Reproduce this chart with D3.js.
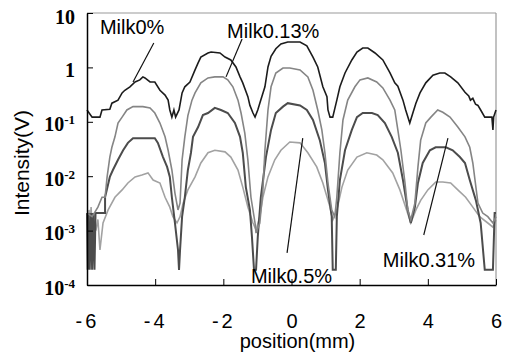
<!DOCTYPE html>
<html>
<head>
<meta charset="utf-8">
<script src="https://cdn.jsdelivr.net/npm/d3@7/dist/d3.min.js"></script>
<style>
    body { margin: 0; background: #fff; }
    .ylab { font-family: "Liberation Serif", "DejaVu Serif", "Times New Roman", serif; font-weight: bold; }
</style>
</head>
<body>
<div id="chart"></div>
<script>
// position (mm), intensity (V)
let milk0 = [
    [-6.00, 0.165], [-5.85, 0.122], [-5.62, 0.122], [-5.56, 0.165], [-5.33, 0.17], [-5.27, 0.22],
    [-5.09, 0.25], [-4.97, 0.34], [-4.89, 0.38], [-4.74, 0.44], [-4.59, 0.54], [-4.45, 0.59],
    [-4.36, 0.67], [-4.30, 0.64], [-4.15, 0.54], [-4.01, 0.54], [-3.86, 0.38], [-3.71, 0.31],
    [-3.62, 0.25], [-3.57, 0.165], [-3.51, 0.122], [-3.45, 0.165], [-3.40, 0.122], [-3.30, 0.165],
    [-3.21, 0.34], [-3.13, 0.44], [-2.98, 0.54], [-2.83, 0.90], [-2.74, 1.21], [-2.66, 1.55],
    [-2.45, 1.84], [-2.36, 1.92], [-2.10, 1.84], [-1.95, 1.55], [-1.78, 1.37], [-1.63, 1.02],
    [-1.51, 0.67], [-1.43, 0.52], [-1.28, 0.29], [-1.22, 0.20], [-1.13, 0.145], [-1.07, 0.122],
    [-0.99, 0.165], [-0.93, 0.22], [-0.78, 0.44], [-0.69, 1.02], [-0.60, 1.6], [-0.46, 2.2],
    [-0.31, 2.7], [-0.11, 2.93], [0.25, 2.93], [0.45, 2.5], [0.63, 1.55], [0.77, 1.02],
    [0.92, 0.44], [1.04, 0.29], [1.07, 0.165], [1.13, 0.122], [1.21, 0.122], [1.33, 0.25],
    [1.42, 0.44], [1.57, 0.79], [1.77, 1.37], [1.92, 1.92], [2.09, 2.27], [2.24, 2.27],
    [2.45, 1.84], [2.68, 1.37], [2.89, 0.79], [3.03, 0.52], [3.12, 0.45], [3.27, 0.25],
    [3.35, 0.165], [3.47, 0.095], [3.56, 0.145], [3.65, 0.22], [3.77, 0.34], [3.94, 0.52],
    [4.15, 0.72], [4.35, 0.79], [4.50, 0.79], [4.67, 0.67], [4.88, 0.52], [5.09, 0.35],
    [5.20, 0.30], [5.25, 0.25], [5.32, 0.27], [5.40, 0.21], [5.47, 0.20], [5.55, 0.165],
    [5.67, 0.122], [5.88, 0.122], [5.91, 0.071], [5.93, 0.122], [6.00, 0.165]
];

let milk013 = [
    [-6.00, 0.0021], [-5.85, 0.0018], [-5.68, 0.0027], [-5.56, 0.0041], [-5.47, 0.0041],
    [-5.41, 0.0097], [-5.33, 0.0225], [-5.27, 0.034], [-5.18, 0.053], [-5.09, 0.095],
    [-4.97, 0.122], [-4.83, 0.165], [-4.65, 0.19], [-4.36, 0.19], [-4.15, 0.18], [-4.01, 0.145],
    [-3.86, 0.095], [-3.71, 0.053], [-3.62, 0.030], [-3.51, 0.013], [-3.42, 0.0049],
    [-3.33, 0.0024], [-3.27, 0.0032], [-3.21, 0.020], [-3.13, 0.053], [-3.04, 0.13],
    [-2.92, 0.25], [-2.83, 0.34], [-2.66, 0.52], [-2.45, 0.64], [-2.25, 0.67], [-2.01, 0.67],
    [-1.87, 0.59], [-1.72, 0.44], [-1.57, 0.25], [-1.48, 0.145], [-1.37, 0.062], [-1.28, 0.020],
    [-1.19, 0.0041], [-1.07, 0.00138], [-1.04, 0.0009], [-0.93, 0.00138], [-0.84, 0.0056],
    [-0.78, 0.030], [-0.69, 0.165], [-0.60, 0.44], [-0.46, 0.79], [-0.25, 0.975], [-0.05, 0.975],
    [0.25, 0.90], [0.48, 0.67], [0.63, 0.38], [0.77, 0.165], [0.89, 0.071], [0.98, 0.027],
    [1.07, 0.0075], [1.18, 0.0024], [1.27, 0.0018], [1.33, 0.0041], [1.42, 0.027], [1.51, 0.108],
    [1.65, 0.25], [1.86, 0.44], [2.01, 0.59], [2.24, 0.64], [2.50, 0.54], [2.68, 0.42],
    [2.89, 0.25], [3.03, 0.165], [3.12, 0.071], [3.21, 0.030], [3.33, 0.0075], [3.41, 0.0024],
    [3.50, 0.00157], [3.62, 0.0032], [3.71, 0.0148], [3.79, 0.046], [3.94, 0.095], [4.09, 0.122],
    [4.29, 0.165], [4.44, 0.15], [4.65, 0.122], [4.88, 0.080], [5.09, 0.053], [5.23, 0.034],
    [5.32, 0.0175], [5.47, 0.0032], [5.61, 0.0021], [5.76, 0.0018], [5.91, 0.00138], [6.00, 0.0018]
];

let milk031 = [
    [-6.00, 0.0021], [-5.98, 0.00019], [-5.95, 0.0021], [-5.92, 0.00019], [-5.88, 0.0021],
    [-5.85, 0.00019], [-5.82, 0.0021], [-5.78, 0.00019], [-5.75, 0.0021], [-5.68, 0.0021],
    [-5.47, 0.0021], [-5.47, 0.0041], [-5.33, 0.0097], [-5.24, 0.013], [-5.09, 0.020],
    [-4.94, 0.030], [-4.80, 0.041], [-4.65, 0.050], [-4.01, 0.050], [-3.92, 0.041],
    [-3.77, 0.0225], [-3.65, 0.0148], [-3.57, 0.0097], [-3.51, 0.0041], [-3.42, 0.00138],
    [-3.33, 0.00044], [-3.30, 0.00019], [-3.27, 0.00044], [-3.21, 0.0018], [-3.13, 0.0041],
    [-3.04, 0.013], [-2.95, 0.027], [-2.89, 0.053], [-2.74, 0.080], [-2.60, 0.133], [-2.45, 0.145],
    [-2.25, 0.18], [-2.07, 0.165], [-1.87, 0.145], [-1.66, 0.095], [-1.51, 0.053], [-1.43, 0.027],
    [-1.34, 0.0063], [-1.22, 0.0024], [-1.16, 0.00076], [-1.10, 0.00019], [-1.04, 0.00019],
    [-0.99, 0.00076], [-0.90, 0.0041], [-0.75, 0.0225], [-0.60, 0.071], [-0.46, 0.145],
    [-0.25, 0.19], [-0.11, 0.22], [0.25, 0.20], [0.45, 0.165], [0.63, 0.108], [0.83, 0.046],
    [0.98, 0.0175], [1.07, 0.0056], [1.18, 0.0018], [1.21, 0.00019], [1.30, 0.00019],
    [1.33, 0.0018], [1.42, 0.0085], [1.57, 0.030], [1.77, 0.071], [1.92, 0.122], [2.09, 0.145],
    [2.36, 0.145], [2.53, 0.133], [2.74, 0.095], [2.94, 0.053], [3.12, 0.027], [3.27, 0.0085],
    [3.41, 0.0024], [3.50, 0.00138], [3.62, 0.0027], [3.71, 0.0075], [3.85, 0.0175], [4.06, 0.030],
    [4.23, 0.034], [4.53, 0.034], [4.73, 0.030], [4.94, 0.0225], [5.09, 0.0175], [5.23, 0.0085],
    [5.41, 0.0036], [5.55, 0.00138], [5.67, 0.00019], [5.91, 0.00019], [5.96, 0.0021], [6.00, 0.0021]
];

let milk05 = [
    [-6.00, 0.0018], [-5.97, 0.0010], [-5.94, 0.0024], [-5.91, 0.0011], [-5.88, 0.0027],
    [-5.85, 0.0012], [-5.80, 0.0021], [-5.74, 0.0010], [-5.68, 0.0016], [-5.62, 0.00044],
    [-5.53, 0.00138], [-5.38, 0.0024], [-5.18, 0.0041], [-4.97, 0.0056], [-4.80, 0.0075],
    [-4.59, 0.0097], [-4.39, 0.0105], [-4.21, 0.0115], [-4.06, 0.0085], [-3.86, 0.0075],
    [-3.71, 0.0041], [-3.57, 0.0027], [-3.48, 0.0018], [-3.36, 0.00138], [-3.27, 0.0018],
    [-3.18, 0.0032], [-3.04, 0.0056], [-2.83, 0.0097], [-2.66, 0.0175], [-2.45, 0.027],
    [-2.25, 0.030], [-1.95, 0.028], [-1.78, 0.0225], [-1.57, 0.013], [-1.43, 0.0063],
    [-1.28, 0.0027], [-1.13, 0.00138], [-1.04, 0.00103], [-0.93, 0.0018], [-0.84, 0.0041],
    [-0.69, 0.0097], [-0.49, 0.020], [-0.31, 0.030], [-0.05, 0.0425], [0.25, 0.041],
    [0.48, 0.027], [0.74, 0.0148], [0.92, 0.0075], [1.13, 0.0027], [1.21, 0.00157],
    [1.33, 0.0024], [1.48, 0.0063], [1.65, 0.013], [1.92, 0.0225], [2.21, 0.027], [2.50, 0.0245],
    [2.68, 0.020], [2.97, 0.0115], [3.18, 0.0056], [3.35, 0.0027], [3.50, 0.00138], [3.65, 0.0024],
    [3.79, 0.0036], [4.00, 0.0056], [4.23, 0.0078], [4.44, 0.0078], [4.67, 0.0075], [4.88, 0.0056],
    [5.11, 0.0041], [5.32, 0.0027], [5.52, 0.0018], [5.76, 0.00138], [5.91, 0.00116], [6.00, 0.00157]
];

let seriesNames = ["Milk0.5%", "Milk0.31%", "Milk0.13%", "Milk0%"];
let seriesData = [milk05, milk031, milk013, milk0];
let seriesColors = ["#a2a2a2", "#4c4c4c", "#858585", "#1c1c1c"];

let xTicks = [-6, -4, -2, 0, 2, 4, 6];
let yTicks = [10, 1, 0.1, 0.01, 0.001, 0.0001];
let yTickBase = ["10", "1", "10", "10", "10", "10"];
let yTickSup = ["", "", "-1", "-2", "-3", "-4"];

class IntensityChart {
    constructor(_parentElement) {
        this.parentElement = _parentElement;
        this.initVis();
    }

    initVis() {
        let vis = this;
        vis.margin = { top: 13, right: 11, bottom: 69, left: 87 };
        vis.width = 507 - vis.margin.left - vis.margin.right;
        vis.height = 354 - vis.margin.top - vis.margin.bottom;

        vis.svg = d3.select("#" + vis.parentElement).append("svg")
            .attr("width", 507)
            .attr("height", 354)
            .append("g")
            .attr("transform", "translate(" + vis.margin.left + "," + vis.margin.top + ")");

        vis.x = d3.scaleLinear().domain([-6, 6]).range([0, vis.width]);
        vis.y = d3.scaleLog().domain([0.0001, 10]).range([vis.height, 0]);

        vis.line = d3.line()
            .x(d => vis.x(d[0]))
            .y(d => vis.y(d[1]));

        vis.updateVis();
    }

    updateVis() {
        let vis = this;

        // grey frame on top / right
        vis.svg.append("line")
            .attr("x1", 0).attr("x2", vis.width).attr("y1", 0).attr("y2", 0)
            .attr("stroke", "#999").attr("stroke-width", 1.2);
        vis.svg.append("line")
            .attr("x1", vis.width).attr("x2", vis.width).attr("y1", 0).attr("y2", vis.height)
            .attr("stroke", "#999").attr("stroke-width", 1.2);

        vis.svg.selectAll(".series")
            .data(seriesData)
            .enter().append("path")
            .attr("class", "series")
            .attr("d", d => vis.line(d))
            .attr("fill", "none")
            .attr("stroke", (d, i) => seriesColors[i])
            .attr("stroke-width", (d, i) => i === 1 ? 2 : 1.6)
            .attr("stroke-linejoin", "miter");

        // x axis
        let xAxis = vis.svg.append("g")
            .attr("transform", "translate(0," + vis.height + ")")
            .call(d3.axisBottom(vis.x).tickValues(xTicks).tickSize(-6).tickSizeOuter(0).tickPadding(29)
                .tickFormat(d => d));
        xAxis.select(".domain").attr("stroke", "#000").attr("stroke-width", 1.5);
        xAxis.selectAll(".tick line").attr("stroke", "#000");
        xAxis.selectAll("text")
            .attr("fill", "#000")
            .style("font-family", "'Liberation Sans', Arial, sans-serif")
            .style("font-size", "20px")
            .style("letter-spacing", d => d < 0 ? "3px" : null);

        // y axis
        let yAxis = vis.svg.append("g")
            .call(d3.axisLeft(vis.y).tickValues(yTicks).tickSize(-6).tickSizeOuter(0).tickFormat(""));
        yAxis.select(".domain").attr("stroke", "#000").attr("stroke-width", 1.5);
        yAxis.selectAll(".tick line").attr("stroke", "#000");
        yAxis.attr("font-family", null);

        let yText = yAxis.selectAll(".tick").append("text")
            .attr("class", "ylab")
            .attr("x", -12)
            .attr("y", (d, i) => i === 0 ? 10 : 9)
            .attr("text-anchor", "end")
            .attr("fill", "#000")
            .attr("font-size", 20);
        yText.append("tspan").text((d, i) => yTickBase[i]);
        yText.append("tspan")
            .attr("dy", -7)
            .attr("font-size", 13)
            .text((d, i) => yTickSup[i]);

        // axis titles
        vis.svg.append("text")
            .attr("x", vis.width / 2 + 6)
            .attr("y", vis.height + 63)
            .attr("text-anchor", "middle")
            .style("font-family", "'Liberation Sans', Arial, sans-serif")
            .style("font-size", "20px")
            .text("position(mm)");

        vis.svg.append("text")
            .attr("transform", "translate(" + (-58) + "," + (vis.height / 2 + 14) + ") rotate(-90)")
            .attr("text-anchor", "middle")
            .style("font-family", "'Liberation Sans', Arial, sans-serif")
            .style("font-size", "21px")
            .text("Intensity(V)");

        // labels with leader lines (position in mm, intensity in V)
        let notes = [
            { name: "Milk0%", tx: -5.62, ty: 4.1, x1: -4.04, y1: 2.81, x2: -4.65, y2: 0.54 },
            { name: "Milk0.13%", tx: -1.89, ty: 3.47, x1: -1.45, y1: 3.33, x2: -1.92, y2: 0.67 },
            { name: "Milk0.5%", tx: -1.19, ty: 0.000109, x1: 0.33, y1: 0.050, x2: -0.13, y2: 0.00039 },
            { name: "Milk0.31%", tx: 2.68, ty: 0.000214, x1: 4.59, y1: 0.050, x2: 3.88, y2: 0.00083 }
        ];

        vis.svg.selectAll(".lead")
            .data(notes)
            .enter().append("line")
            .attr("class", "lead")
            .attr("x1", d => vis.x(d.x1)).attr("y1", d => vis.y(d.y1))
            .attr("x2", d => vis.x(d.x2)).attr("y2", d => vis.y(d.y2))
            .attr("stroke", "#111")
            .attr("stroke-width", 1.2);

        vis.svg.selectAll(".note")
            .data(notes)
            .enter().append("text")
            .attr("class", "note")
            .attr("x", d => vis.x(d.tx))
            .attr("y", d => vis.y(d.ty))
            .style("font-family", "'Liberation Sans', Arial, sans-serif")
            .style("font-size", "20px")
            .text(d => d.name);
    }
}

new IntensityChart("chart");
</script>
</body>
</html>
